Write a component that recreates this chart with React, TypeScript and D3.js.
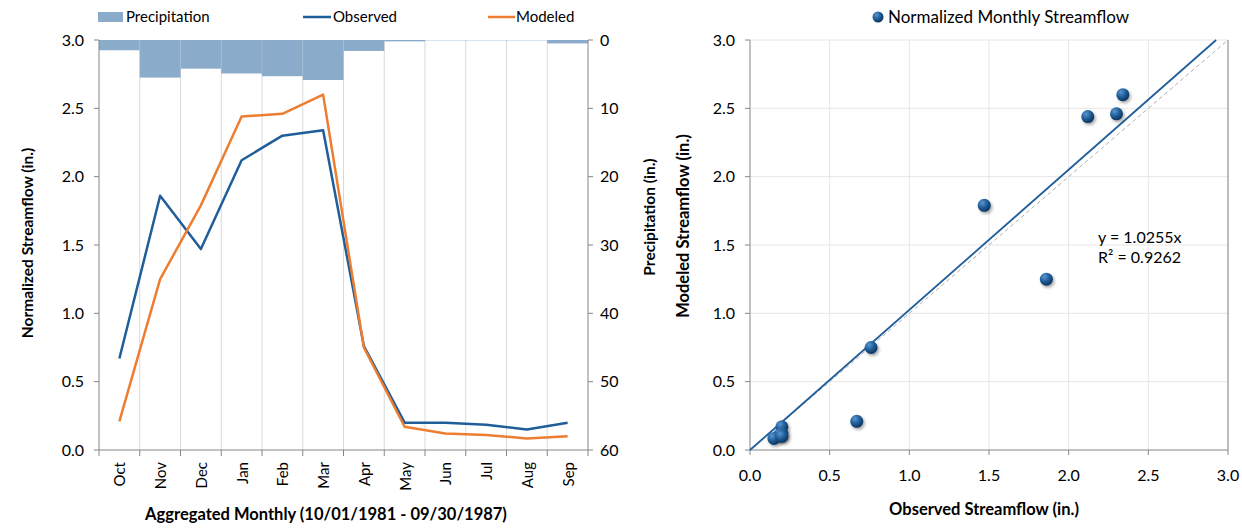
import React from 'react';
import * as d3 from 'd3';

const months = ['Oct', 'Nov', 'Dec', 'Jan', 'Feb', 'Mar', 'Apr', 'May', 'Jun', 'Jul', 'Aug', 'Sep'];
const observed = [0.67, 1.86, 1.47, 2.12, 2.3, 2.34, 0.76, 0.2, 0.2, 0.185, 0.15, 0.2];
const modeled = [0.21, 1.25, 1.79, 2.44, 2.46, 2.6, 0.75, 0.17, 0.12, 0.11, 0.085, 0.1];
const precipitation = [1.5, 5.5, 4.2, 4.9, 5.3, 5.85, 1.6, 0.2, 0.05, 0.05, 0.05, 0.5];
const flowTicks = [0, 0.5, 1, 1.5, 2, 2.5, 3];
const precipTicks = [0, 10, 20, 30, 40, 50, 60];
const trendSlope = 1.0255;
const rSquared = 0.9262;

const FONT = 'Lato, "Open Sans", sans-serif';
const AXIS = '#868686';
const GRID = '#d9d9d9';
const BLUE = '#1f5e99';
const ORANGE = '#ed7d31';
const PRECIP = '#8aabca';

export default function App() {
  // left chart
  const L = { left: 99, right: 588, top: 40, bottom: 450 };
  const x = d3.scaleBand().domain(months).range([L.left, L.right]);
  const y = d3.scaleLinear().domain([0, 3]).range([L.bottom, L.top]);
  const yp = d3.scaleLinear().domain([0, 60]).range([L.top, L.bottom]);
  const line = d3
    .line<number>()
    .x((_, i) => x(months[i])! + x.bandwidth() / 2)
    .y((d) => y(d));

  // scatter chart
  const S = { left: 750, right: 1228, top: 40, bottom: 450 };
  const sx = d3.scaleLinear().domain([0, 3]).range([S.left, S.right]);
  const sy = d3.scaleLinear().domain([0, 3]).range([S.bottom, S.top]);
  const pts = observed.map((o, i) => ({ o, m: modeled[i] }));
  const trendEnd = 3 / trendSlope;

  const boundaries = months.map((m) => x(m)!).concat([L.right]);

  return (
    <svg width={1242} height={531} style={{ position: 'absolute', left: 0, top: 0, background: '#fff' }} fontFamily={FONT}>
      <defs>
        <radialGradient id="ball" cx="35%" cy="30%" r="70%">
          <stop offset="0%" stopColor="#5b95cf" />
          <stop offset="55%" stopColor="#1f5e99" />
          <stop offset="100%" stopColor="#0d3560" />
        </radialGradient>
        <filter id="shadow" x="-50%" y="-50%" width="200%" height="200%">
          <feDropShadow dx="1.5" dy="2" stdDeviation="1.5" floodColor="#000" floodOpacity="0.35" />
        </filter>
      </defs>

      {/* ---------- left chart ---------- */}
      {boundaries.slice(1, -1).map((b, i) => (
        <line key={i} x1={b} x2={b} y1={L.top} y2={L.bottom} stroke={GRID} />
      ))}
      {precipitation.map((p, i) => (
        <rect key={i} x={x(months[i])} y={L.top} width={x.bandwidth()} height={yp(p) - L.top} fill={PRECIP} />
      ))}
      {boundaries.slice(1, 7).map((b, i) => (
        <line key={'pb' + i} x1={b} x2={b} y1={L.top} y2={yp(Math.min(precipitation[i], precipitation[i + 1]))} stroke="#a6bfd6" strokeWidth={0.8} />
      ))}
      {/* axes */}
      <line x1={L.left} x2={L.left} y1={L.top} y2={L.bottom} stroke={AXIS} />
      <line x1={L.right} x2={L.right} y1={L.top} y2={L.bottom} stroke={AXIS} />
      <line x1={L.left} x2={L.right} y1={L.bottom} y2={L.bottom} stroke={AXIS} />
      {flowTicks.map((t) => (
        <g key={'ft' + t}>
          <line x1={L.left - 5} x2={L.left} y1={y(t)} y2={y(t)} stroke={AXIS} />
          <text x={L.left - 15} y={y(t)} dy="0.35em" textAnchor="end" fontSize={16}>
            {d3.format('.1f')(t)}
          </text>
        </g>
      ))}
      {precipTicks.map((t) => (
        <g key={'pt' + t}>
          <line x1={L.right} x2={L.right + 5} y1={yp(t)} y2={yp(t)} stroke={AXIS} />
          <text x={L.right + 12} y={yp(t)} dy="0.35em" textAnchor="start" fontSize={16}>
            {t}
          </text>
        </g>
      ))}
      {boundaries.map((b, i) => (
        <line key={'bt' + i} x1={b} x2={b} y1={L.bottom} y2={L.bottom + 6} stroke={AXIS} />
      ))}
      {months.map((m) => (
        <text
          key={m}
          transform={`translate(${x(m)! + x.bandwidth() / 2 + 6},${L.bottom + 12}) rotate(-90)`}
          textAnchor="end"
          fontSize={15}
        >
          {m}
        </text>
      ))}
      <path d={line(observed)!} fill="none" stroke={BLUE} strokeWidth={2.5} strokeLinejoin="round" />
      <path d={line(modeled)!} fill="none" stroke={ORANGE} strokeWidth={2.5} strokeLinejoin="round" />

      {/* legend */}
      <rect x={98} y={12} width={25} height={10} fill={PRECIP} />
      <text x={126} y={17} dy="0.35em" fontSize={15}>Precipitation</text>
      <line x1={303} x2={331} y1={17} y2={17} stroke={BLUE} strokeWidth={2.5} />
      <text x={333} y={17} dy="0.35em" fontSize={15}>Observed</text>
      <line x1={488} x2={515} y1={17} y2={17} stroke={ORANGE} strokeWidth={2.5} />
      <text x={516} y={17} dy="0.35em" fontSize={15}>Modeled</text>

      {/* titles */}
      <text transform="translate(33,243) rotate(-90)" textAnchor="middle" fontSize={15.5} fontWeight="bold">
        Normalized Streamflow (in.)
      </text>
      <text transform="translate(655,217) rotate(-90)" textAnchor="middle" fontSize={15.5} fontWeight="bold">
        Precipitation (in.)
      </text>
      <text x={326} y={514} dy="0.35em" textAnchor="middle" fontSize={16.5} fontWeight="bold">
        Aggregated Monthly (10/01/1981 - 09/30/1987)
      </text>

      {/* ---------- scatter chart ---------- */}
      {flowTicks.slice(1).map((t) => (
        <g key={'sg' + t}>
          <line x1={sx(t)} x2={sx(t)} y1={S.top} y2={S.bottom} stroke="#e6e6e6" />
          <line x1={S.left} x2={S.right} y1={sy(t)} y2={sy(t)} stroke="#e6e6e6" />
        </g>
      ))}
      <line x1={S.left} x2={S.left} y1={S.top} y2={S.bottom} stroke={AXIS} />
      <line x1={S.left} x2={S.right} y1={S.bottom} y2={S.bottom} stroke={AXIS} />
      <line x1={S.right} x2={S.right} y1={S.top} y2={S.bottom} stroke={AXIS} />
      {flowTicks.map((t) => (
        <g key={'st' + t}>
          <line x1={S.left - 5} x2={S.left} y1={sy(t)} y2={sy(t)} stroke={AXIS} />
          <text x={S.left - 15} y={sy(t)} dy="0.35em" textAnchor="end" fontSize={16}>
            {d3.format('.1f')(t)}
          </text>
          <line x1={sx(t)} x2={sx(t)} y1={S.bottom} y2={S.bottom + 5} stroke={AXIS} />
          <text x={sx(t)} y={S.bottom + 25} dy="0.35em" textAnchor="middle" fontSize={16}>
            {d3.format('.1f')(t)}
          </text>
        </g>
      ))}
      {/* 1:1 line */}
      <line x1={sx(0)} y1={sy(0)} x2={sx(3)} y2={sy(3)} stroke="#b0b0b0" strokeWidth={1} strokeDasharray="4,3" />
      {/* trend line */}
      <line x1={sx(0)} y1={sy(0)} x2={sx(trendEnd)} y2={sy(3)} stroke={BLUE} strokeWidth={1.8} />
      {pts.map((p, i) => (
        <circle key={i} cx={sx(p.o)} cy={sy(p.m)} r={6.5} fill="url(#ball)" filter="url(#shadow)" />
      ))}
      <text x={1098} y={237} dy="0.35em" fontSize={16}>y = {trendSlope}x</text>
      <text x={1098} y={257} dy="0.35em" fontSize={16}>R² = {rSquared}</text>

      <circle cx={878} cy={17} r={5.5} fill="url(#ball)" />
      <text x={888} y={17} dy="0.35em" fontSize={17}>Normalized Monthly Streamflow</text>

      <text transform="translate(689,226) rotate(-90)" textAnchor="middle" fontSize={16.5} fontWeight="bold">
        Modeled Streamflow (in.)
      </text>
      <text x={984} y={509} dy="0.35em" textAnchor="middle" fontSize={16.5} fontWeight="bold">
        Observed Streamflow (in.)
      </text>
    </svg>
  );
}
